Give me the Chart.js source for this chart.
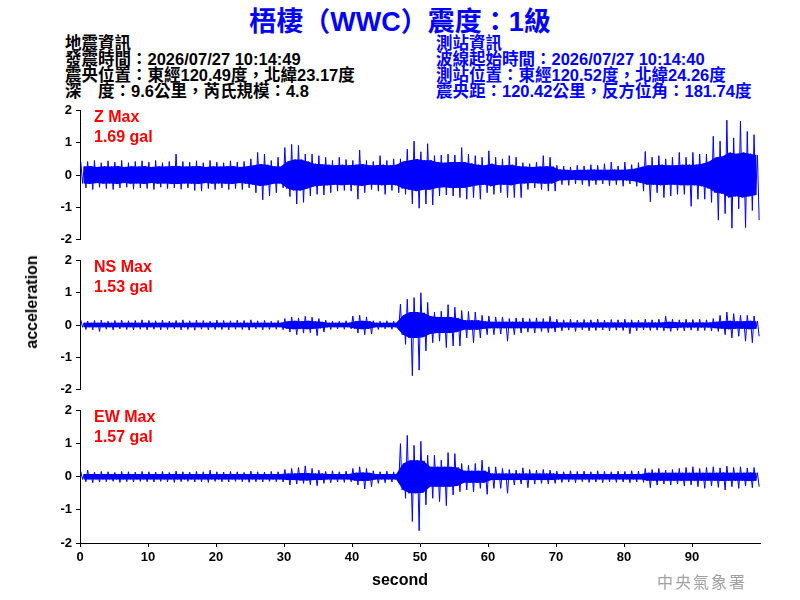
<!DOCTYPE html>
<html>
<head>
<meta charset="utf-8">
<script src="https://cdn.jsdelivr.net/npm/chart.js@4.4.1/dist/chart.umd.min.js"></script>
<style>
body { margin: 0; background: #fff; }
#wrap { position: relative; width: 800px; height: 600px; overflow: hidden;
        font-family: "Liberation Sans", Arial, "Noto Sans CJK TC", sans-serif; }
canvas { position: absolute; left: 0; }
.txt { position: absolute; white-space: nowrap; font-weight: bold; }
.info { font-size: 16.5px; line-height: 16px; }
.maxlab { left: 94px; font-size: 16px; line-height: 20px; color: #ff0000; }
</style>
</head>
<body>
<div id="wrap">
  <div class="txt" style="left:0;width:800px;top:0px;text-align:center;font-size:27px;color:#0000ff;">梧棲（WWC）震度：1級</div>
  <div class="txt info" style="left:65px;top:35px;color:#000;">地震資訊<br>發震時間：2026/07/27 10:14:49<br>震央位置：東經120.49度，北緯23.17度<br>深　度：9.6公里，芮氏規模：4.8</div>
  <div class="txt info" style="left:436px;top:35px;color:#0000ff;">測站資訊<br>波線起始時間：2026/07/27 10:14:40<br>測站位置：東經120.52度，北緯24.26度<br>震央距：120.42公里，反方位角：181.74度</div>

  <canvas id="chartZ" width="800" height="150" style="top:100px"></canvas>
  <canvas id="chartNS" width="800" height="150" style="top:250px"></canvas>
  <canvas id="chartEW" width="800" height="200" style="top:400px"></canvas>

  <div class="txt maxlab" style="top:107px;">Z Max<br>1.69 gal</div>
  <div class="txt maxlab" style="top:257px;">NS Max<br>1.53 gal</div>
  <div class="txt maxlab" style="top:407px;">EW Max<br>1.57 gal</div>

  <div class="txt" style="left:32px;top:302px;font-size:16px;transform:translate(-50%,-50%) rotate(-90deg);">acceleration</div>
  <div class="txt" style="left:400px;top:580px;font-size:16px;transform:translate(-50%,-50%);">second</div>
  <div class="txt" style="left:657px;top:571px;font-size:16px;line-height:20px;letter-spacing:2px;color:#a0a0a0;font-weight:normal;font-family:'Noto Sans CJK TC';">中央氣象署</div>
</div>

<script>
// peak max / peak min of each one-second window (gal)
var zHi = [0.40,0.42,0.45,0.38,0.44,0.40,0.45,0.38,0.42,0.44,
           0.40,0.45,0.38,0.42,0.65,0.42,0.40,0.44,0.38,0.45,
           0.40,0.38,0.44,0.40,0.42,0.50,0.70,0.65,0.45,0.55,
           0.85,0.95,0.92,0.65,0.65,0.60,0.55,0.45,0.55,0.48,
           0.45,0.77,0.45,0.42,0.60,0.45,0.50,0.50,0.80,1.05,
           0.72,0.97,0.60,0.62,0.65,0.62,0.85,0.65,0.60,0.55,
           0.75,0.55,0.50,0.60,0.55,0.38,0.35,0.40,0.60,0.55,
           0.30,0.28,0.25,0.30,0.28,0.32,0.30,0.35,0.40,0.28,
           0.40,0.32,0.38,0.73,0.55,0.60,0.50,0.55,0.70,0.55,
           0.70,0.65,0.65,1.20,1.05,1.70,1.15,1.67,1.35,1.25];
var zLo = [-0.40,-0.45,-0.38,-0.42,-0.45,-0.40,-0.38,-0.44,-0.40,-0.42,
           -0.45,-0.38,-0.42,-0.40,-0.44,-0.40,-0.48,-0.50,-0.42,-0.45,
           -0.40,-0.45,-0.42,-0.45,-0.40,-0.55,-0.77,-0.65,-0.55,-0.40,
           -0.67,-0.90,-0.85,-0.65,-0.60,-0.62,-0.55,-0.50,-0.48,-0.50,
           -0.75,-0.55,-0.45,-0.50,-0.60,-0.48,-0.55,-0.60,-0.90,-1.03,
           -0.90,-0.93,-0.65,-0.62,-0.65,-0.70,-0.75,-0.70,-0.75,-0.55,
           -0.60,-0.55,-0.70,-0.70,-0.70,-0.45,-0.40,-0.45,-0.50,-0.50,
           -0.30,-0.32,-0.28,-0.30,-0.35,-0.30,-0.28,-0.33,-0.30,-0.35,
           -0.28,-0.35,-0.50,-0.83,-0.55,-0.70,-0.65,-0.60,-0.60,-0.97,
           -0.75,-0.75,-0.85,-1.40,-1.20,-1.65,-1.05,-1.63,-1.10,-1.40];
// half width of the dense band of each window
var zCore = [0.26,0.28,0.25,0.27,0.26,0.28,0.25,0.27,0.26,0.28,
             0.25,0.27,0.26,0.28,0.28,0.26,0.27,0.28,0.25,0.27,
             0.26,0.27,0.28,0.25,0.27,0.30,0.34,0.32,0.27,0.26,
             0.42,0.48,0.48,0.42,0.35,0.33,0.32,0.30,0.32,0.30,
             0.32,0.34,0.30,0.30,0.32,0.30,0.32,0.42,0.46,0.50,
             0.46,0.46,0.40,0.38,0.40,0.40,0.40,0.36,0.32,0.30,
             0.35,0.30,0.30,0.32,0.27,0.26,0.25,0.26,0.27,0.26,
             0.17,0.16,0.15,0.16,0.16,0.17,0.16,0.16,0.17,0.16,
             0.17,0.19,0.25,0.30,0.30,0.32,0.30,0.30,0.32,0.32,
             0.32,0.35,0.42,0.55,0.58,0.70,0.66,0.70,0.66,0.62];

var nsHi = [0.15,0.12,0.14,0.15,0.12,0.14,0.15,0.13,0.14,0.16,
            0.14,0.13,0.15,0.12,0.14,0.16,0.13,0.15,0.14,0.12,
            0.15,0.14,0.13,0.15,0.14,0.16,0.13,0.14,0.12,0.14,
            0.20,0.25,0.22,0.27,0.24,0.20,0.15,0.12,0.12,0.13,
            0.28,0.30,0.25,0.13,0.12,0.13,0.12,0.65,0.80,0.85,
            1.00,0.70,0.40,0.43,0.63,0.55,0.45,0.42,0.40,0.30,
            0.28,0.25,0.25,0.20,0.22,0.22,0.20,0.22,0.20,0.27,
            0.18,0.16,0.18,0.15,0.17,0.16,0.18,0.15,0.17,0.16,
            0.18,0.16,0.15,0.18,0.16,0.18,0.27,0.18,0.16,0.18,
            0.17,0.18,0.16,0.20,0.30,0.40,0.35,0.30,0.30,0.28];
var nsLo = [-0.14,-0.15,-0.20,-0.13,-0.15,-0.12,-0.14,-0.15,-0.13,-0.15,
            -0.13,-0.15,-0.14,-0.12,-0.15,-0.14,-0.16,-0.13,-0.15,-0.14,
            -0.14,-0.15,-0.13,-0.14,-0.16,-0.12,-0.15,-0.14,-0.13,-0.15,
            -0.22,-0.30,-0.25,-0.24,-0.33,-0.22,-0.14,-0.12,-0.13,-0.12,
            -0.25,-0.30,-0.28,-0.14,-0.12,-0.13,-0.14,-0.60,-1.57,-1.40,
            -0.80,-0.55,-0.50,-0.70,-0.65,-0.65,-0.40,-0.55,-0.40,-0.30,
            -0.30,-0.28,-0.50,-0.30,-0.25,-0.22,-0.25,-0.20,-0.24,-0.22,
            -0.18,-0.16,-0.20,-0.15,-0.18,-0.17,-0.15,-0.18,-0.16,-0.17,
            -0.27,-0.18,-0.15,-0.17,-0.16,-0.18,-0.20,-0.17,-0.18,-0.16,
            -0.18,-0.17,-0.18,-0.20,-0.30,-0.40,-0.35,-0.50,-0.55,-0.35];
var nsCore = [0.07,0.07,0.07,0.07,0.07,0.07,0.07,0.07,0.07,0.07,
              0.07,0.07,0.07,0.07,0.07,0.07,0.07,0.07,0.07,0.07,
              0.07,0.07,0.07,0.07,0.07,0.07,0.07,0.07,0.07,0.07,
              0.12,0.13,0.12,0.13,0.12,0.10,0.07,0.07,0.07,0.07,
              0.12,0.13,0.12,0.07,0.07,0.07,0.07,0.30,0.40,0.40,
              0.38,0.28,0.25,0.25,0.25,0.22,0.15,0.15,0.15,0.12,
              0.10,0.10,0.10,0.10,0.10,0.10,0.10,0.10,0.10,0.10,
              0.08,0.08,0.08,0.08,0.08,0.08,0.08,0.08,0.08,0.08,
              0.08,0.08,0.08,0.08,0.08,0.08,0.10,0.09,0.08,0.08,
              0.08,0.08,0.08,0.10,0.12,0.13,0.12,0.12,0.13,0.12];

var ewHi = [0.15,0.20,0.14,0.16,0.15,0.13,0.16,0.15,0.14,0.16,
            0.15,0.14,0.16,0.13,0.17,0.15,0.14,0.16,0.15,0.20,
            0.15,0.14,0.16,0.15,0.13,0.17,0.15,0.14,0.16,0.15,
            0.22,0.25,0.28,0.33,0.25,0.20,0.16,0.18,0.15,0.17,
            0.25,0.30,0.25,0.18,0.15,0.17,0.15,1.00,1.25,0.95,
            1.07,0.65,0.65,0.50,0.73,0.70,0.40,0.35,0.40,0.50,
            0.30,0.30,0.25,0.22,0.20,0.27,0.22,0.20,0.22,0.20,
            0.17,0.15,0.18,0.16,0.17,0.15,0.18,0.16,0.15,0.17,
            0.16,0.18,0.17,0.25,0.22,0.25,0.20,0.22,0.25,0.28,
            0.30,0.25,0.28,0.30,0.27,0.32,0.28,0.30,0.26,0.28];
var ewLo = [-0.15,-0.18,-0.16,-0.15,-0.14,-0.17,-0.15,-0.16,-0.14,-0.15,
            -0.16,-0.14,-0.15,-0.17,-0.15,-0.14,-0.16,-0.15,-0.17,-0.14,
            -0.15,-0.16,-0.14,-0.15,-0.17,-0.15,-0.16,-0.14,-0.15,-0.16,
            -0.25,-0.22,-0.20,-0.24,-0.27,-0.20,-0.18,-0.16,-0.17,-0.15,
            -0.25,-0.37,-0.30,-0.20,-0.18,-0.16,-0.18,-0.65,-1.35,-1.63,
            -0.85,-0.65,-0.75,-0.87,-0.55,-0.45,-0.40,-0.45,-0.35,-0.53,
            -0.35,-0.35,-0.50,-0.25,-0.22,-0.33,-0.22,-0.20,-0.22,-0.20,
            -0.17,-0.16,-0.18,-0.15,-0.17,-0.16,-0.18,-0.15,-0.17,-0.16,
            -0.18,-0.16,-0.17,-0.33,-0.25,-0.22,-0.25,-0.22,-0.28,-0.25,
            -0.30,-0.35,-0.28,-0.32,-0.40,-0.30,-0.35,-0.28,-0.33,-0.30];
var ewCore = [0.08,0.08,0.08,0.08,0.08,0.08,0.08,0.08,0.08,0.08,
              0.08,0.08,0.08,0.08,0.08,0.08,0.08,0.08,0.08,0.08,
              0.08,0.08,0.08,0.08,0.08,0.08,0.08,0.08,0.08,0.08,
              0.10,0.10,0.11,0.11,0.10,0.10,0.08,0.08,0.08,0.08,
              0.12,0.13,0.12,0.08,0.08,0.08,0.08,0.40,0.50,0.50,
              0.48,0.30,0.30,0.30,0.30,0.28,0.18,0.18,0.18,0.18,
              0.10,0.10,0.10,0.10,0.10,0.10,0.10,0.10,0.10,0.10,
              0.08,0.08,0.08,0.08,0.08,0.08,0.08,0.08,0.08,0.08,
              0.08,0.08,0.08,0.12,0.12,0.12,0.12,0.12,0.12,0.12,
              0.12,0.12,0.12,0.12,0.13,0.12,0.12,0.12,0.13,0.12];

// start of each one-second window
var seconds = [];
for (var s = 0; s < zHi.length; s++) seconds.push(s);
var xTicksMax = 90; // last labelled second on the time axis

var blue = '#0000ff';
var tickFont = { family: 'Liberation Sans', weight: 'bold', size: 13, lineHeight: 1 };

function BuildTrace(canvasId, hi, lo, core, showTime) {
    // each window: up to its peak, through the dense band, down to its trough
    var wiggle = [];
    for (var i = 0; i < seconds.length; i++) {
        wiggle.push({ x: seconds[i] + 0.125, y: hi[i] });
        wiggle.push({ x: seconds[i] + 0.375, y: -core[i] });
        wiggle.push({ x: seconds[i] + 0.625, y: core[i] });
        wiggle.push({ x: seconds[i] + 0.875, y: lo[i] });
    }
    // solid band between +core and -core
    var bandTop = core.map(function (c, i) { return { x: seconds[i] + 0.5, y: c }; });
    var bandBottom = core.map(function (c, i) { return { x: seconds[i] + 0.5, y: -c }; });

    var xScale = {
        type: 'linear', min: 0, max: 100, display: showTime,
        border: { display: true, color: '#000', width: 1 },
        grid: { drawOnChartArea: false, tickLength: 4, color: '#000' },
        ticks: { stepSize: 10, color: '#000', font: tickFont, padding: 4, maxRotation: 0 },
        afterBuildTicks: function (scale) {
            scale.ticks = scale.ticks.filter(function (t) { return t.value <= xTicksMax; });
        }
    };
    if (showTime) {
        xScale.afterFit = function (scale) { scale.height = 57; };
    }

    var ctx = document.getElementById(canvasId).getContext('2d');
    return new Chart(ctx, {
        type: 'line',
        data: {
            datasets: [{
                data: bandTop, borderColor: blue, borderWidth: 0, pointRadius: 0, fill: false
            }, {
                data: bandBottom, borderColor: blue, borderWidth: 0, pointRadius: 0,
                fill: '-1', backgroundColor: blue
            }, {
                data: wiggle, borderColor: blue, borderWidth: 1, pointRadius: 0, fill: false
            }]
        },
        options: {
            responsive: false,
            animation: false,
            devicePixelRatio: 1,
            layout: { padding: { top: 8, right: 40, bottom: showTime ? 0 : 7, left: 0 } },
            plugins: { legend: { display: false }, tooltip: { enabled: false } },
            elements: { line: { tension: 0 } },
            scales: {
                x: xScale,
                y: {
                    min: -2, max: 2,
                    border: { display: true, color: '#000', width: 1 },
                    grid: { drawOnChartArea: false, tickLength: 4, color: '#000' },
                    ticks: { stepSize: 1, color: '#000', font: tickFont, padding: 4 },
                    afterFit: function (scale) { scale.width = 80; }
                }
            }
        }
    });
}

BuildTrace('chartZ', zHi, zLo, zCore, false);
BuildTrace('chartNS', nsHi, nsLo, nsCore, false);
BuildTrace('chartEW', ewHi, ewLo, ewCore, true);
</script>
</body>
</html>
